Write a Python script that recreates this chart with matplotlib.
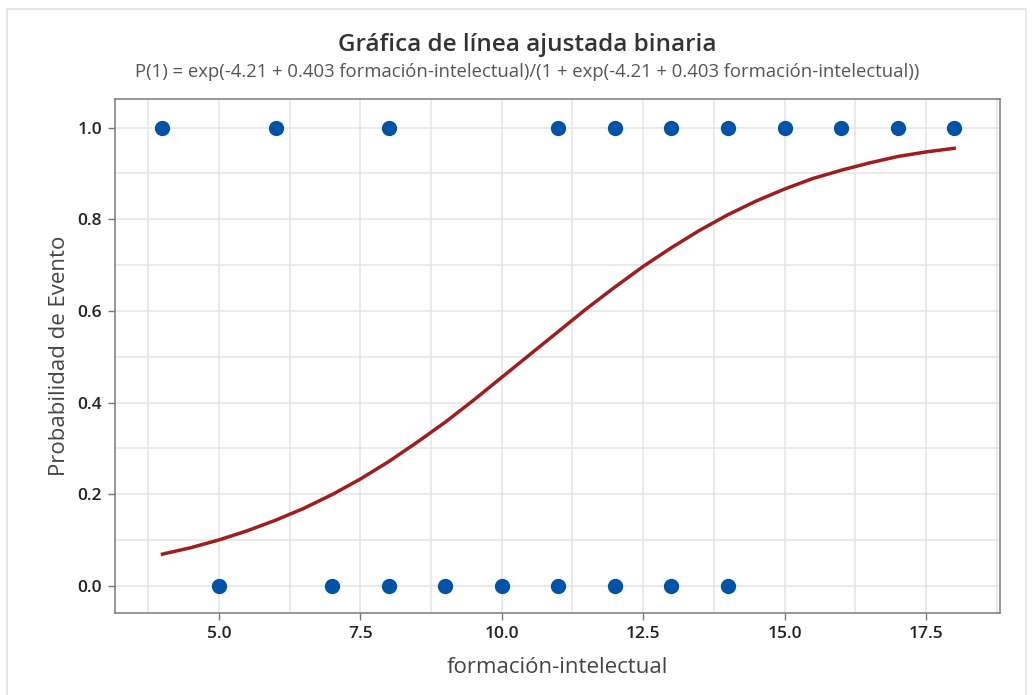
import matplotlib
matplotlib.use("Agg")
import matplotlib.pyplot as plt
from matplotlib.patches import Rectangle

# observed events
x_uno = [4, 6, 8, 11, 12, 13, 14, 15, 16, 17, 18]
y_uno = [1] * len(x_uno)
x_cero = [5, 7, 8, 9, 10, 11, 12, 13, 14]
y_cero = [0] * len(x_cero)

# fitted curve
x_ajuste = [4, 4.5, 5, 5.5, 6, 6.5, 7, 7.5, 8, 8.5, 9, 9.5, 10, 10.5, 11,
            11.5, 12, 12.5, 13, 13.5, 14, 14.5, 15, 15.5, 16, 16.5, 17, 17.5, 18]
p_ajuste = [0.069, 0.083, 0.100, 0.120, 0.143, 0.169, 0.199, 0.233, 0.271,
            0.313, 0.357, 0.405, 0.455, 0.505, 0.555, 0.605, 0.652, 0.697,
            0.738, 0.776, 0.810, 0.840, 0.866, 0.889, 0.907, 0.923, 0.937,
            0.947, 0.955]

x_ticks = [5.0, 7.5, 10.0, 12.5, 15.0, 17.5]
y_ticks = [0.0, 0.2, 0.4, 0.6, 0.8, 1.0]

plt.rcParams['font.family'] = ['Open Sans', 'DejaVu Sans']

W, H = 1035, 695
fig = plt.figure(figsize=(W / 100, H / 100), dpi=100)
ax = fig.add_axes([114.5 / W, 1 - 613 / H, (1000 - 114.5) / W, (613 - 99) / H])

# light frame of the screenshot
fig.patches.append(Rectangle((7 / W, -0.01), (1026 - 7) / W, 1 - 9 / H + 0.01,
                             transform=fig.transFigure, fill=False,
                             edgecolor='#e3e3e3', linewidth=1.2))

ax.set_xlim(3.152, 18.81)
ax.set_ylim(-0.0595, 1.0626)

ax.set_xticks(x_ticks)
ax.set_xticklabels([f"{v:.1f}" for v in x_ticks])
ax.set_yticks(y_ticks)
ax.set_yticklabels([f"{v:.1f}" for v in y_ticks])
ax.set_xticks([3.75 + 2.5 * i for i in range(7)], minor=True)
ax.set_yticks([0.1, 0.3, 0.5, 0.7, 0.9], minor=True)

ax.grid(True, which='both', color='#e4e4e4', linewidth=1.1)
ax.set_axisbelow(True)
ax.tick_params(which='minor', length=0)
ax.tick_params(which='major', length=5, width=1, color='#777777',
               labelsize=12.5, labelcolor='#222222', pad=4)
for lab in ax.get_xticklabels() + ax.get_yticklabels():
    lab.set_fontweight('semibold')
for s in ax.spines.values():
    s.set_color('#7a7a7a')
    s.set_linewidth(1.1)

ax.plot(x_ajuste, p_ajuste, color='#A01D1D', linewidth=2.5, zorder=3)
ax.plot(x_uno, y_uno, 'o', color='#0053A6', markersize=10, zorder=4)
ax.plot(x_cero, y_cero, 'o', color='#0053A6', markersize=10, zorder=4)

ax.set_xlabel("formación-intelectual", fontsize=16, color='#444444', labelpad=11)
ax.set_ylabel("Probabilidad de Evento", fontsize=16, color='#444444', labelpad=5)

cx = 527 / W
fig.text(cx, 1 - 45 / H, "Gráfica de línea ajustada binaria", ha='center',
         va='center', fontsize=17.5, fontweight='semibold', color='#333333')
fig.text(cx, 1 - 72 / H,
         "P(1) = exp(-4.21 + 0.403 formación-intelectual)/(1 + exp(-4.21 + 0.403 formación-intelectual))",
         ha='center', va='center', fontsize=13.3, color='#555555')

fig.savefig("out.png", dpi=100)
